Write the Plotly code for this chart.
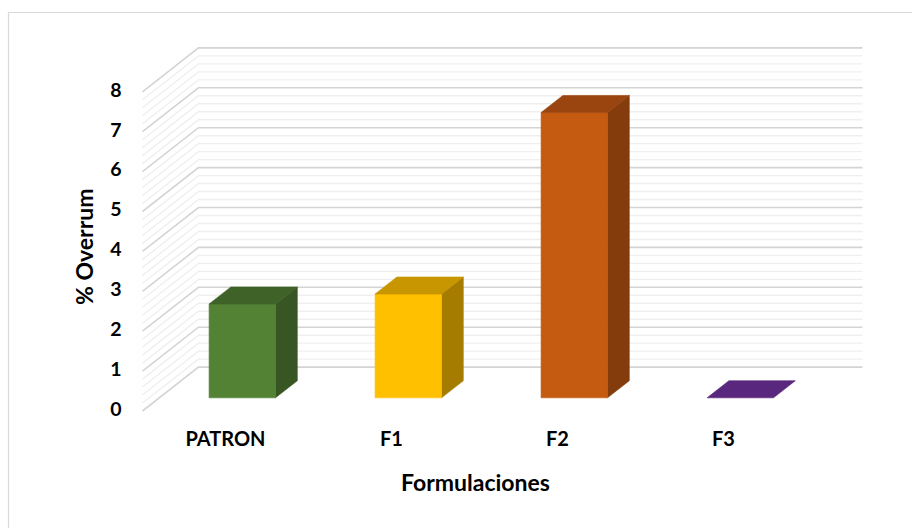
import numpy as np
import plotly.graph_objects as go

# --- data ---
categories = ["PATRON", "F1", "F2", "F3"]
overrun = [2.35, 2.6, 7.15, 0.0]
front_colors = ["#548235", "#ffc000", "#c55a11", "#59277e"]
top_colors = ["#3f6229", "#c79600", "#9a4510", "#59277e"]
side_colors = ["#375623", "#a67c00", "#843c0c", "#4a1f69"]
y_ticks = [0, 1, 2, 3, 4, 5, 6, 7, 8]
y_title = "% Overrum"
x_title = "Formulaciones"

# --- oblique projection parameters (in axis units) ---
DEPTH_DX = 0.337      # horizontal shift of the back wall, category units
DEPTH_DY = 1.10       # vertical shift of the back wall, value units
BAR_FRONT = 0.30      # depth fraction of the bar front faces
BAR_BACK = 0.69       # depth fraction of the bar back faces
BAR_HALF = 0.20       # half width of the bar front faces
FLOOR_X0, FLOOR_X1 = -0.5, len(categories) - 0.5
Y_MAX = max(y_ticks)
MINOR_STEP = 0.2

# pixel mapping of the projection
W, H = 912, 528
PX_X0, PX_PER_CAT = 225.5, 166.0
PX_Y0, PX_PER_VAL = 411.0, 39.9

fig = go.Figure()


def add_line(xs, ys, color, width):
    fig.add_trace(go.Scatter(x=xs, y=ys, mode="lines",
                             line=dict(color=color, width=width),
                             hoverinfo="skip", showlegend=False))


# gridlines on the side wall and back wall (minor first, majors on top)
levels = np.round(np.arange(0, Y_MAX + 1e-9, MINOR_STEP), 3)
for major in (False, True):
    for v in levels:
        is_major = abs(v - round(v)) < 1e-6
        if is_major != major:
            continue
        color = "#d4d4d4" if is_major else "#efefef"
        width = 1.6 if is_major else 1.4
        add_line([FLOOR_X0, FLOOR_X0 + DEPTH_DX, FLOOR_X1 + DEPTH_DX],
                 [v, v + DEPTH_DY, v + DEPTH_DY], color, width)


def add_poly(xs, ys, color):
    fig.add_trace(go.Scatter(x=xs + [xs[0]], y=ys + [ys[0]], mode="lines",
                             fill="toself", fillcolor=color,
                             line=dict(color=color, width=0.6),
                             hoverinfo="skip", showlegend=False))


# 3D-style columns
for i, (val, fc, tc, sc) in enumerate(zip(overrun, front_colors, top_colors, side_colors)):
    fx = BAR_FRONT * DEPTH_DX
    fy = BAR_FRONT * DEPTH_DY
    ddx = (BAR_BACK - BAR_FRONT) * DEPTH_DX
    ddy = (BAR_BACK - BAR_FRONT) * DEPTH_DY
    xl, xr = i - BAR_HALF + fx, i + BAR_HALF + fx
    yb, yt = fy, fy + val
    if val > 0:
        add_poly([xr, xr, xr + ddx, xr + ddx], [yb, yt, yt + ddy, yb + ddy], sc)
        add_poly([xl, xr, xr, xl], [yb, yb, yt, yt], fc)
    add_poly([xl, xr, xr + ddx, xl + ddx], [yt, yt, yt + ddy, yt + ddy], tc)

# value axis labels
tick_x = (116 - PX_X0) / PX_PER_CAT
fig.add_trace(go.Scatter(x=[tick_x] * len(y_ticks), y=y_ticks, mode="text",
                         text=[str(t) for t in y_ticks],
                         textfont=dict(family="Lato", size=19.5, color="#000000", weight="bold"),
                         hoverinfo="skip", showlegend=False))

# category labels
cat_y = (PX_Y0 - 441) / PX_PER_VAL
fig.add_trace(go.Scatter(x=list(range(len(categories))), y=[cat_y] * len(categories),
                         mode="text", text=categories,
                         textfont=dict(family="Lato", size=20, color="#000000", weight="bold"),
                         hoverinfo="skip", showlegend=False))

fig.add_annotation(text=y_title, xref="paper", yref="paper",
                   x=84 / W, y=1 - 247 / H, xanchor="center", yanchor="middle",
                   showarrow=False, textangle=-90,
                   font=dict(family="Lato", size=23, color="#000000", weight="bold"))
fig.add_annotation(text=x_title, xref="paper", yref="paper",
                   x=476 / W, y=1 - 482 / H, xanchor="center", yanchor="middle",
                   showarrow=False,
                   font=dict(family="Lato", size=23, color="#000000", weight="bold"))

# chart border
fig.add_shape(type="rect", xref="paper", yref="paper",
              x0=8.5 / W, y0=1 - 12.5 / H, x1=1.02, y1=-0.02,
              line=dict(color="#d9d9d9", width=1.2))

x_range = [(0 - PX_X0) / PX_PER_CAT, (W - PX_X0) / PX_PER_CAT]
y_range = [(PX_Y0 - H) / PX_PER_VAL, PX_Y0 / PX_PER_VAL]
fig.update_layout(
    width=W, height=H,
    margin=dict(l=0, r=0, t=0, b=0),
    paper_bgcolor="white", plot_bgcolor="white",
    xaxis=dict(range=x_range, visible=False, fixedrange=True),
    yaxis=dict(range=y_range, visible=False, fixedrange=True),
    showlegend=False,
)

fig.write_html("out.html")
